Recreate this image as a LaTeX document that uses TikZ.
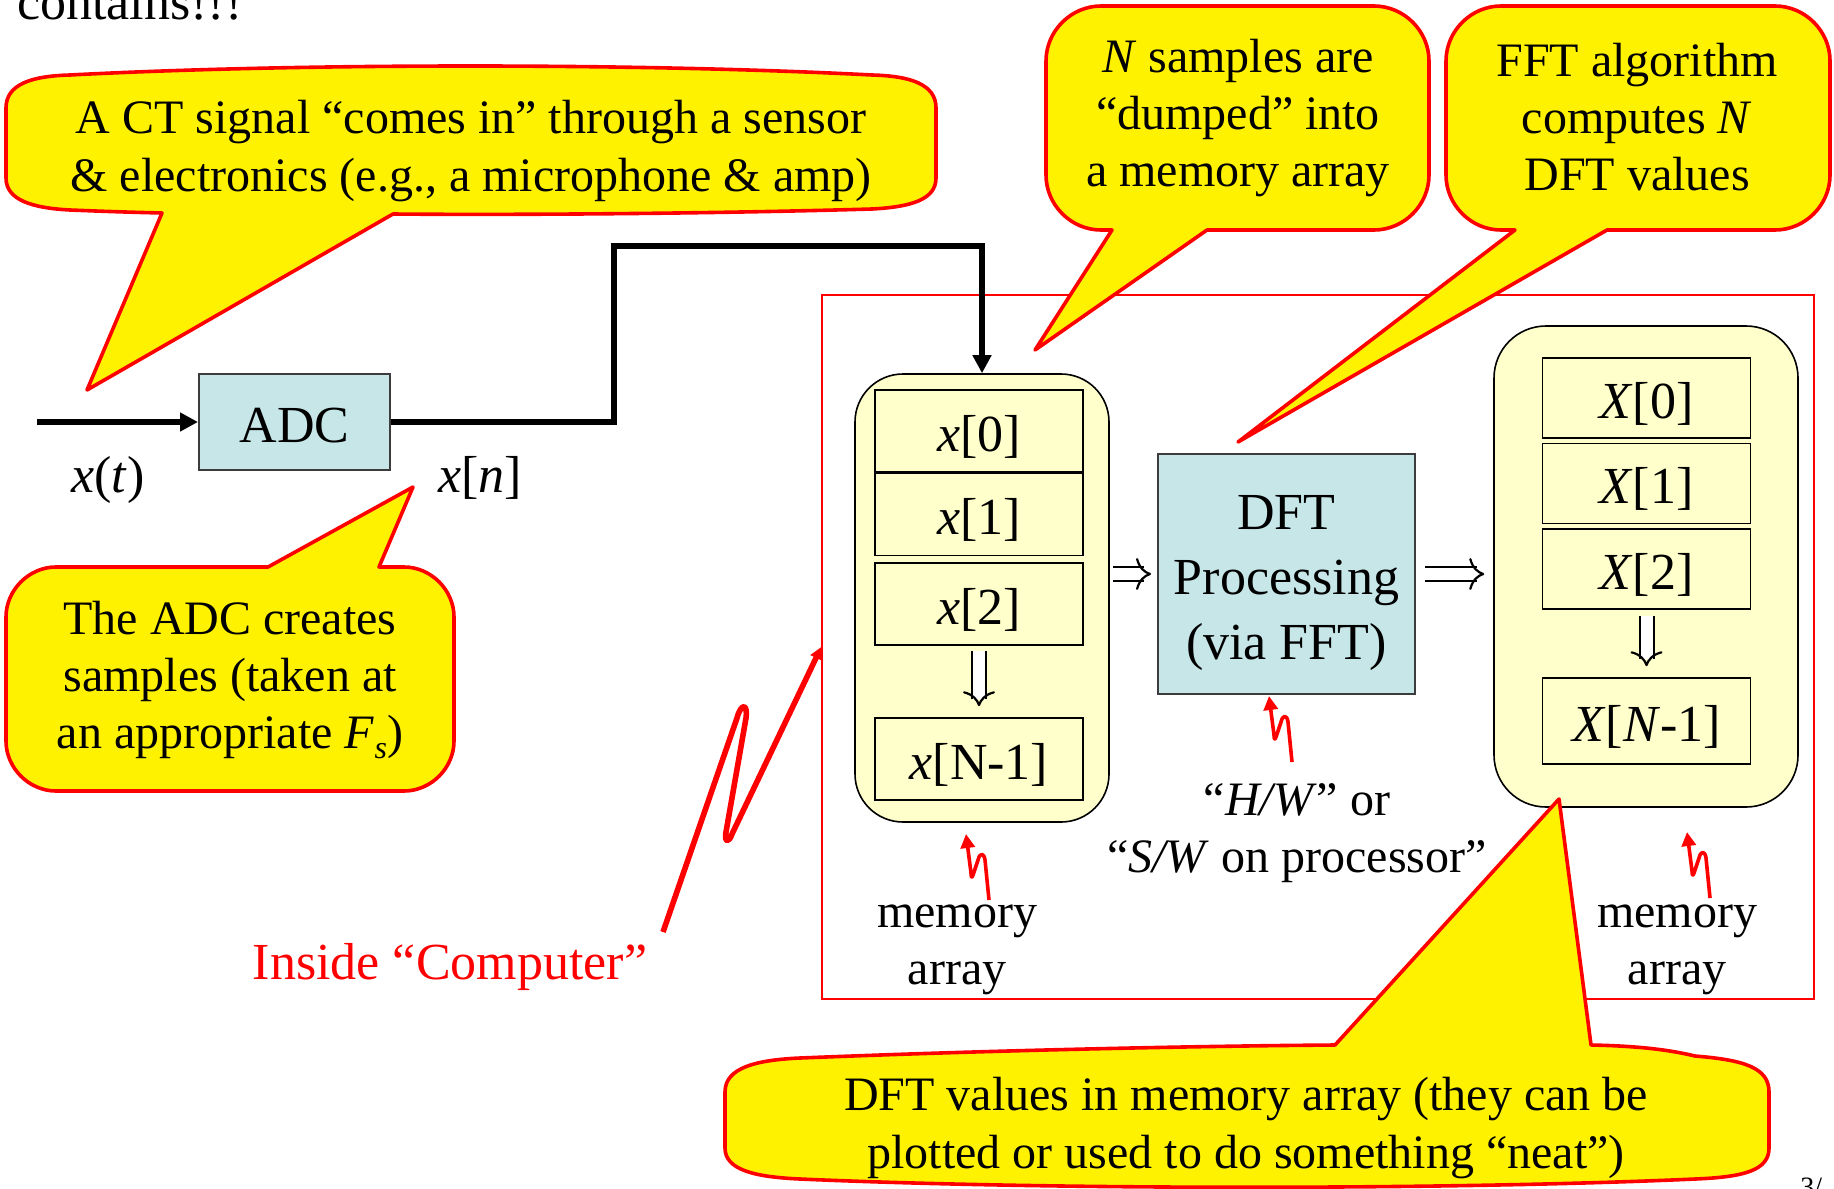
\documentclass[tikz,border=0pt]{standalone}
\usepackage{fontspec}
\setmainfont{Liberation Serif}
\usetikzlibrary{positioning,arrows.meta,calc}

\definecolor{boxblue}{RGB}{198,230,232}
\definecolor{memyellow}{RGB}{255,255,204}
\definecolor{boxgray}{RGB}{60,60,60}

\newcommand{\bigtext}{\fontsize{26}{32.5}\selectfont}
\newcommand{\smalltext}{\fontsize{24}{28.7}\selectfont}

\begin{document}
\begin{tikzpicture}[x=0.5pt, y=-0.5pt,
  block/.style={draw=boxgray, line width=1pt, fill=boxblue, font=\bigtext, align=center, inner sep=0pt},
  memory/.style={draw=black, line width=0.8pt, fill=memyellow, rounded corners=24pt},
  cell/.style={draw=black, line width=0.8pt, minimum width=104pt, minimum height=41pt, font=\bigtext, inner sep=0pt, text height=22pt, text depth=2pt},
  bubble/.style={draw=red, fill=yellow, line width=1.8pt, line join=round},
  note/.style={font=\smalltext, align=center},
  signal/.style={line width=2.6pt, -{Triangle[length=9pt,width=9pt]}},
  dblshaft/.style={double, double distance=6pt, line width=1pt},
  dblhead/.style={line width=1.1pt, -{Computer Modern Rightarrow[length=7.5pt,width=16pt]}},
  squig/.style={red, line width=1.8pt, line join=round, -{Triangle[length=7pt,width=7pt]}},
  redpointer/.style={red, line width=2.8pt, line join=round, -{Triangle[length=6pt,width=6pt]}}
]
\useasboundingbox (0,0) rectangle (1834,1188);

% Slide text cut off at the edges
\node[font=\bigtext, anchor=base west] (cont) at (10,20) {contains!!!};
\node[font=\fontsize{14}{14}\selectfont, anchor=north west, inner sep=0pt] (page) at (1800,1178) {3/};

% Inside the computer
\node[draw=red, line width=0.75pt, minimum width=496pt, minimum height=352pt, inner sep=0pt] (computer) at (1318,647) {};

% ADC stage
\coordinate (xin) at (37,422);
\node[block, minimum width=95.5pt, minimum height=48pt, text height=20pt, text depth=0pt] (adc) at (294.5,422) {ADC};
\node[font=\bigtext] (xt) at (108,480) {\textit{x}(\textit{t})};
\node[font=\bigtext] (xn) at (480,478) {\textit{x}[\textit{n}]};

% Input memory array
\node[memory, minimum width=127pt, minimum height=224pt] (memL) at (982,598) {};
\node[cell] (x0) at (979,431) {\textit{x}[0]};
\node[cell, below=0pt of x0] (x1) {\textit{x}[1]};
\node[cell, below=3pt of x1] (x2) {\textit{x}[2]};
\node[cell] (xN) at (979,759) {\textit{x}[N-1]};

% DFT processing
\node[block, minimum width=128.5pt, minimum height=120pt] (dft) at (1286.5,574) {};
\node[font=\bigtext, align=center] (dfttext) at (1286.5,583) {DFT\\Processing\\(via FFT)};

% Output memory array
\node[memory, minimum width=152pt, minimum height=240.5pt, rounded corners=26pt] (memR) at (1646,566.5) {};
\node[cell, minimum height=40pt] (X0) at (1646.5,398) {\textit{X}[0]};
\node[cell, minimum height=40pt, below=2pt of X0] (X1) {\textit{X}[1]};
\node[cell, minimum height=40pt, below=2pt of X1] (X2) {\textit{X}[2]};
\node[cell, minimum height=43pt] (XN) at (1646.5,721) {\textit{X}[\textit{N}-1]};

% Labels
\node[note] (memLlab) at (957,950) {memory\\array};
\node[note] (memRlab) at (1677,950) {memory\\array};
\node[note] (hwlab) at (1297,833) {“\textit{H/W}” or\\“\textit{S/W} on processor”};
\node[font=\bigtext, text=red] (inside) at (450,967) {Inside “Computer”};

% Signal path
\coordinate (bend) at (614,246);
\draw[signal] (xin) -- (adc.west);
\draw[signal] (adc.east) -| (bend) -| (memL.north);

% Double arrows
\draw[dblshaft] ($(x2.south)+(0,5)$) -- ($(xN.north)+(0,-18)$);
\draw[dblhead] ($(xN.north)+(0,-14)$) -- ($(xN.north)+(0,-11)$);
\draw[dblshaft] ($(X2.south)+(0,6)$) -- ($(XN.north)+(0,-18)$);
\draw[dblhead] ($(XN.north)+(0,-14)$) -- ($(XN.north)+(0,-11)$);
\draw[dblshaft] ($(memL.east |- dft.west)+(3,0)$) -- ($(dft.west)+(-13,0)$);
\draw[dblhead] ($(dft.west)+(-9,0)$) -- ($(dft.west)+(-6,0)$);
\draw[dblshaft] ($(dft.east)+(9,0)$) -- ($(dft.east -| memR.west)+(-16,0)$);
\draw[dblhead] ($(dft.east -| memR.west)+(-12,0)$) -- ($(dft.east -| memR.west)+(-9,0)$);

% Red pointers
\coordinate (sqL) at (989,900);
\coordinate (sqM) at (1292,762);
\coordinate (sqR) at (1710,898);
\draw[squig, shift={(sqL)}] (0,0) -- (-4,-40) .. controls (-5,-47) and (-9,-48) .. (-11,-40) -- (-16,-25) .. controls (-17,-22) and (-18,-22) .. (-18,-27) -- (-23,-66);
\draw[squig, shift={(sqM)}] (0,0) -- (-4,-40) .. controls (-5,-47) and (-9,-48) .. (-11,-40) -- (-16,-25) .. controls (-17,-22) and (-18,-22) .. (-18,-27) -- (-23,-66);
\draw[squig, shift={(sqR)}] (0,0) -- (-4,-40) .. controls (-5,-47) and (-9,-48) .. (-11,-40) -- (-16,-25) .. controls (-17,-22) and (-18,-22) .. (-18,-27) -- (-23,-66);
\coordinate (zs) at (663,932);
\draw[redpointer] (zs) -- (737,718) .. controls (741,703) and (748,703) .. (746,718) -- (726,832) .. controls (724,843) and (729,843) .. (732,834) -- (computer.west);

% Callouts
\draw[bubble] (6,108) .. controls (6,84) and (32,76) .. (70,75)
  .. controls (300,63) and (640,63) .. (872,75)
  .. controls (910,76) and (936,84) .. (936,108)
  -- (936,178)
  .. controls (936,200) and (910,207) .. (872,209)
  .. controls (700,214) and (500,215) .. (393,214)
  -- (87,390) -- (162,213)
  .. controls (120,212) and (95,211) .. (70,210)
  .. controls (32,208) and (6,200) .. (6,178) -- cycle;
\node[note] (sensornote) at (471,151) {A CT signal “comes in” through a sensor\\\& electronics (e.g., a microphone \& amp)};

\draw[bubble] (1046,61) .. controls (1046,31) and (1071,6) .. (1101,6) -- (1374,6)
  .. controls (1404,6) and (1429,31) .. (1429,61) -- (1429,175)
  .. controls (1429,205) and (1404,230) .. (1374,230) -- (1207,230) -- (1035,350) -- (1112,230) -- (1101,230)
  .. controls (1071,230) and (1046,205) .. (1046,175) -- cycle;
\node[note] (dumpnote) at (1238,118) {\textit{N} samples are\\“dumped” into\\a memory array};

\draw[bubble] (1446,61) .. controls (1446,31) and (1471,6) .. (1501,6) -- (1775,6)
  .. controls (1805,6) and (1830,31) .. (1830,61) -- (1830,175)
  .. controls (1830,205) and (1805,230) .. (1775,230) -- (1607,230) -- (1238,442) -- (1515,230) -- (1501,230)
  .. controls (1471,230) and (1446,205) .. (1446,175) -- cycle;
\node[note] (fftnote) at (1637,117) {FFT algorithm\\computes \textit{N}\\DFT values};

\draw[bubble] (6,617) .. controls (6,590) and (29,567) .. (56,567) -- (268,567) -- (413,487) -- (379,567) -- (404,567)
  .. controls (431,567) and (454,590) .. (454,617) -- (454,741)
  .. controls (454,768) and (431,791) .. (404,791) -- (56,791)
  .. controls (29,791) and (6,768) .. (6,741) -- cycle;
\node[note] (adcnote) at (230,680) {The ADC creates\\samples (taken at\\an appropriate \textit{F}\raisebox{-0.45ex}{\fontsize{16}{16}\selectfont\textit{s}})};

\draw[bubble] (725,1092) .. controls (725,1068) and (755,1060) .. (800,1058)
  .. controls (1000,1050) and (1200,1046) .. (1335,1045)
  -- (1559,799) -- (1591,1045)
  .. controls (1640,1046) and (1670,1050) .. (1695,1056)
  .. controls (1745,1060) and (1769,1068) .. (1769,1092)
  -- (1769,1148)
  .. controls (1769,1170) and (1745,1177) .. (1695,1179)
  .. controls (1450,1190) and (1050,1190) .. (800,1179)
  .. controls (755,1177) and (725,1170) .. (725,1148) -- cycle;
\node[note] (dftnote) at (1246,1128) {DFT values in memory array (they can be\\plotted or used to do something “neat”)};
\end{tikzpicture}
\end{document}
